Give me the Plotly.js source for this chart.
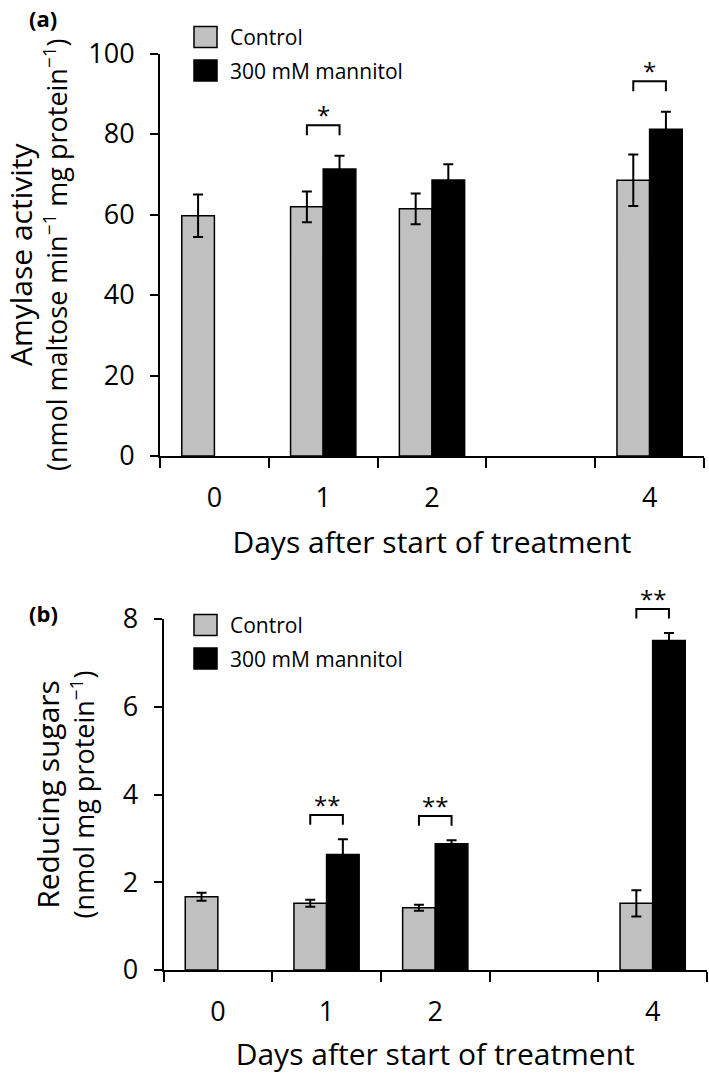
<!DOCTYPE html>
<html>
<head>
<meta charset="utf-8">
<script src="https://cdn.plot.ly/plotly-3.0.1.min.js"></script>
<style>
html, body { margin: 0; padding: 0; background: #ffffff; }
#chart { width: 709px; height: 1077px; }
</style>
</head>
<body>
<div id="chart"></div>
<script>
// ---------- data ----------
const days = [0, 1, 2, 4];                       // days after start of treatment (no sample on day 3)
const dayLabels = ['0', '1', '2', '4'];
const seriesNames = ['Control', '300 mM mannitol'];
const seriesColors = ['#c0c0c0', '#000000'];

// (a) Amylase activity (nmol maltose min-1 mg protein-1)
const amylaseControl = [59.7, 61.9, 61.4, 68.5];
const amylaseControlErr = [5.3, 3.8, 3.8, 6.4];
const amylaseMannitol = [null, 71.3, 68.6, 81.2];
const amylaseMannitolErr = [null, 3.3, 3.9, 4.3];
const amylaseSig = ['', '*', '', '*'];

// (b) Reducing sugars (nmol mg protein-1)
const sugarControl = [1.67, 1.52, 1.42, 1.52];
const sugarControlErr = [0.09, 0.08, 0.07, 0.30];
const sugarMannitol = [null, 2.63, 2.88, 7.51];
const sugarMannitolErr = [null, 0.35, 0.08, 0.17];
const sugarSig = ['', '**', '**', '**'];

const yTicksA = [0, 20, 40, 60, 80, 100];
const yTicksB = [0, 2, 4, 6, 8];

const xTitle = 'Days after start of treatment';
const yTitleA = ['Amylase activity', '(nmol maltose min<sup>\u22121</sup> mg protein<sup>\u22121</sup>)'];
const yTitleB = ['Reducing sugars', '(nmol mg protein<sup>\u22121</sup>)'];
const panelLabels = ['(a)', '(b)'];

// ---------- helpers ----------
const W = 709, H = 1077;
const px = v => v / W;
const py = v => 1 - v / H;
const FONT = '"Open Sans", "Noto Sans", sans-serif';
const BLACK = '#000000';
const BARGAP = 0.4;
const half = (1 - BARGAP) / 4; // offset of each bar centre from the day position
const xRange = [days[0] - 0.5, days[days.length - 1] + 0.5];
const boundaries = [];
for (let b = xRange[0]; b <= xRange[1] + 1e-9; b += 1) boundaries.push(b);

function barTrace(y, err, i, xa, ya) {
  return {
    type: 'bar', x: days, y: y, name: seriesNames[i], xaxis: xa, yaxis: ya,
    marker: { color: seriesColors[i], line: { color: BLACK, width: 1.5 } },
    error_y: { type: 'data', array: err, visible: true, color: BLACK, thickness: 2, width: 5 },
    showlegend: false, hoverinfo: 'skip'
  };
}

const annotations = [];

// significance brackets: drawn as line traces through the axes, stars as annotations
function sigTrace(sig, ctrl, ctrlErr, mann, mannErr, gap, leg, xa, ya) {
  const bx = [], by = [];
  sig.forEach((s, i) => {
    if (!s) return;
    const top = Math.max((ctrl[i] || 0) + (ctrlErr[i] || 0), (mann[i] || 0) + (mannErr[i] || 0)) + gap;
    const x0 = days[i] - half, x1 = days[i] + half;
    bx.push(x0, x0, x1, x1, null);
    by.push(top - leg, top, top, top - leg, null);
    annotations.push({ xref: xa, yref: ya, x: days[i], y: top, text: s, showarrow: false, yanchor: 'bottom',
      yshift: -8, font: { family: FONT, size: 24, color: BLACK } });
  });
  return { type: 'scatter', mode: 'lines', x: bx, y: by, xaxis: xa, yaxis: ya, cliponaxis: false,
    line: { color: BLACK, width: 2 }, showlegend: false, hoverinfo: 'skip' };
}

const data = [
  barTrace(amylaseControl, amylaseControlErr, 0, 'x', 'y'),
  barTrace(amylaseMannitol, amylaseMannitolErr, 1, 'x', 'y'),
  barTrace(sugarControl, sugarControlErr, 0, 'x2', 'y2'),
  barTrace(sugarMannitol, sugarMannitolErr, 1, 'x2', 'y2'),
  sigTrace(amylaseSig, amylaseControl, amylaseControlErr, amylaseMannitol, amylaseMannitolErr, 7.6, 2.5, 'x', 'y'),
  // panel (b) brackets sit on a hidden axis with the same scale as y2 but extending above its top tick
  sigTrace(sugarSig, sugarControl, sugarControlErr, sugarMannitol, sugarMannitolErr, 0.55, 0.22, 'x2', 'y3')
];

// legends (drawn by hand for large swatches)
const shapes = [];
function addLegend(rowsY) {
  rowsY.forEach((cy, i) => {
    shapes.push({ type: 'rect', xref: 'paper', yref: 'paper', x0: px(194), x1: px(217), y0: py(cy + 10.5), y1: py(cy - 10.5),
      fillcolor: seriesColors[i], line: { color: BLACK, width: 1.5 } });
    annotations.push({ xref: 'paper', yref: 'paper', x: px(228), y: py(cy), xanchor: 'left', yanchor: 'middle',
      text: seriesNames[i], showarrow: false, font: { family: FONT, size: 21, color: BLACK } });
  });
}
addLegend([37, 70.5]);
addLegend([625, 658.5]);

annotations.push({ xref: 'paper', yref: 'paper', x: px(43), y: py(17.5), text: '<b>' + panelLabels[0] + '</b>',
  showarrow: false, xanchor: 'center', yanchor: 'middle', font: { family: FONT, size: 22, color: BLACK } });
annotations.push({ xref: 'paper', yref: 'paper', x: px(43), y: py(612.5), text: '<b>' + panelLabels[1] + '</b>',
  showarrow: false, xanchor: 'center', yanchor: 'middle', font: { family: FONT, size: 22, color: BLACK } });

const tickFont = { family: FONT, size: 27, color: BLACK };
const yTitleText = lines => '<span style="font-size:30px">' + lines[0] + '</span><br>' + lines[1];

function xAxis(dom, anchor, standoff) {
  return {
    domain: dom, anchor: anchor, type: 'linear',
    range: xRange, tickmode: 'array', tickvals: days, ticktext: dayLabels,
    ticks: '', showline: true, linewidth: 2, linecolor: BLACK, showgrid: false, zeroline: false,
    minor: { tickmode: 'array', tickvals: boundaries, ticks: 'outside', ticklen: 10, tickwidth: 2,
      tickcolor: BLACK, showgrid: false },
    tickfont: tickFont, ticklabelstandoff: 17, fixedrange: true,
    title: { text: xTitle, font: { family: FONT, size: 30, color: BLACK }, standoff: standoff }
  };
}
function yAxis(dom, anchor, range, ticks, title, standoff) {
  return {
    domain: dom, anchor: anchor, range: range, tickmode: 'array', tickvals: ticks,
    ticks: 'outside', ticklen: 8, tickwidth: 2, tickcolor: BLACK,
    showline: true, linewidth: 2, linecolor: BLACK, showgrid: false, zeroline: false,
    tickfont: tickFont, ticklabelstandoff: 10, fixedrange: true,
    title: { text: yTitleText(title), font: { family: FONT, size: 27, color: BLACK }, standoff: standoff }
  };
}

// panel (b) geometry: value 0 at 970 px, top tick at 619 px
const yB0 = 970, yBTop = 619;
const pxPerUnitB = (yB0 - yBTop) / yTicksB[yTicksB.length - 1];
const extraB = 8.8; // hidden axis reaches a bit higher for the bracket above the 7.5 bar

const layout = {
  width: W, height: H,
  margin: { l: 0, r: 0, t: 0, b: 0 },
  paper_bgcolor: '#ffffff', plot_bgcolor: 'rgba(0,0,0,0)',
  barmode: 'group', bargap: BARGAP, bargroupgap: 0,
  showlegend: false, hovermode: false,
  font: { family: FONT, color: BLACK },
  xaxis: xAxis([px(160), px(704)], 'y', 18),
  yaxis: yAxis([py(456), py(53.5)], 'x', [0, 100], yTicksA, yTitleA, 20),
  xaxis2: xAxis([px(163.5), px(707)], 'y2', 16),
  yaxis2: yAxis([py(yB0), py(yBTop)], 'x2', [0, yTicksB[yTicksB.length - 1]], yTicksB, yTitleB, 20),
  yaxis3: { domain: [py(yB0), py(yB0 - extraB * pxPerUnitB)], anchor: 'x2', range: [0, extraB],
    visible: false, fixedrange: true },
  shapes: shapes,
  annotations: annotations
};

Plotly.newPlot('chart', data, layout, { staticPlot: true, displayModeBar: false });
</script>
</body>
</html>
